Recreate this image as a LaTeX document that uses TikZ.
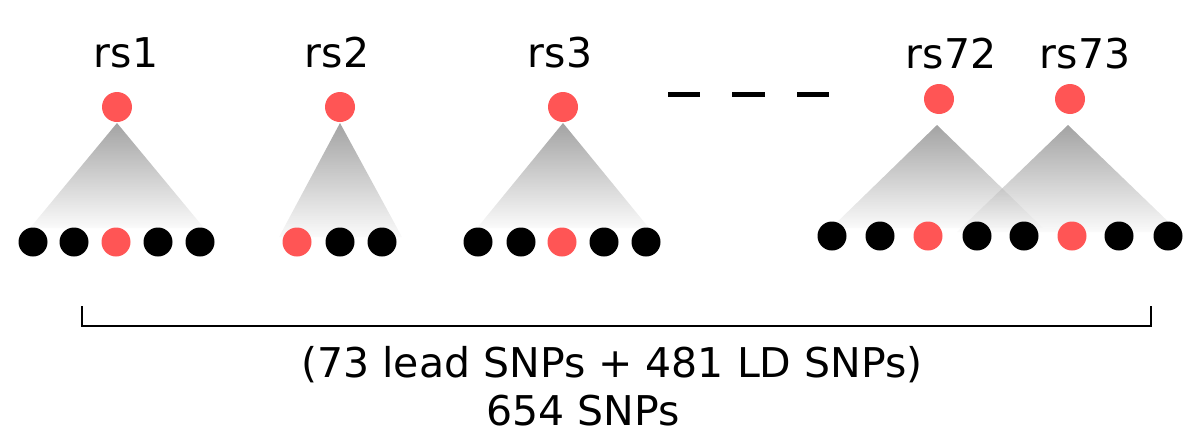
\documentclass[tikz,border=0pt]{standalone}
\usepackage{fontspec}
\setmainfont{DejaVu Sans}
\definecolor{snpred}{RGB}{255,85,85}
\begin{document}
\begin{tikzpicture}[x=1pt,y=-1pt,
  lead/.style={circle,fill=snpred,draw=none,minimum size=30pt,inner sep=0pt},
  rdot/.style={circle,fill=snpred,draw=none,minimum size=29pt,inner sep=0pt},
  bdot/.style={circle,fill=black,draw=none,minimum size=29pt,inner sep=0pt},
  lbl/.style={anchor=base,inner sep=0pt,font=\fontsize{41}{50}\selectfont},
  ld/.style={shading=axis,top color=black!60,bottom color=black!3,fill opacity=0.6,draw=none},
  dashbar/.style={line width=5pt},
  brack/.style={line width=1.5pt}]
\useasboundingbox (0,0) rectangle (1183,434);
% triangles
\shade[ld] (117,123) -- (30,228) -- (204,228) -- cycle;
\shade[ld] (340,123) -- (279,237) -- (402,237) -- cycle;
\shade[ld] (563,123) -- (477,228) -- (649,228) -- cycle;
\shade[ld] (937,125) -- (831,228) -- (1043,228) -- cycle;
\shade[ld] (1068,125) -- (957,232) -- (1179,232) -- cycle;
% lead SNPs
\node[lead] (l1) at (117,107) {};
\node[lead] (l2) at (340,107) {};
\node[lead] (l3) at (563,107) {};
\node[lead] (l72) at (939,99) {};
\node[lead] (l73) at (1070,99) {};
% labels
\node[lbl] (t1) at (126,67) {rs1};
\node[lbl] (t2) at (337,67) {rs2};
\node[lbl] (t3) at (560,67) {rs3};
\node[lbl] (t72) at (951,68) {rs72};
\node[lbl] (t73) at (1085,68) {rs73};
% LD SNPs
\node[bdot] (a1) at (33,242) {};
\node[bdot] (a2) at (74,242) {};
\node[rdot] (a3) at (116,242) {};
\node[bdot] (a4) at (158,242) {};
\node[bdot] (a5) at (200,242) {};
\node[rdot] (b1) at (297,242) {};
\node[bdot] (b2) at (340,242) {};
\node[bdot] (b3) at (382,242) {};
\node[bdot] (c1) at (478,242) {};
\node[bdot] (c2) at (521,242) {};
\node[rdot] (c3) at (562,242) {};
\node[bdot] (c4) at (604,242) {};
\node[bdot] (c5) at (646,242) {};
\node[bdot] (d1) at (832,236) {};
\node[bdot] (d2) at (880,236) {};
\node[rdot] (d3) at (928,236) {};
\node[bdot] (d4) at (977,236) {};
\node[bdot] (d5) at (1024,236) {};
\node[rdot] (d6) at (1072,236) {};
\node[bdot] (d7) at (1119,236) {};
\node[bdot] (d8) at (1168,236) {};
% ellipsis dashes
\draw[dashbar] (668,94) -- (700,94);
\draw[dashbar] (732,94) -- (765,94);
\draw[dashbar] (797,94) -- (829,94);
% bracket
\coordinate (bl) at (82,306);
\coordinate (br) at (1151,306);
\draw[brack] (bl) -- ++(0,20) -| (br);
% caption
\node[lbl] (cap1) at (612,377) {(73 lead SNPs + 481 LD SNPs)};
\node[lbl] (cap2) at (583,425) {654 SNPs};
\end{tikzpicture}
\end{document}
